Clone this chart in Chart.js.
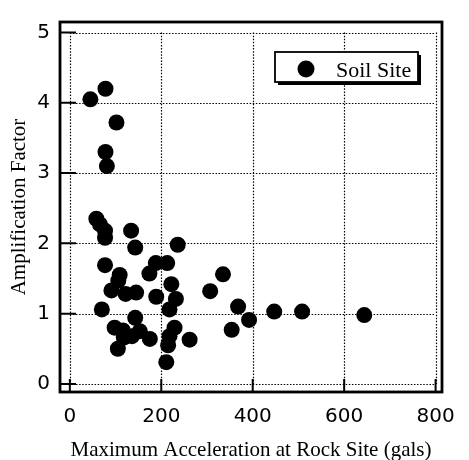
<html>

<head>
  <script src="https://cdn.jsdelivr.net/npm/chart.js"></script>
</head>

<body style="margin: 0; background: #fff;">
  <canvas id="myChart" width="469" height="460"></canvas>
  <script>
    // values
    const seriesLabel = 'Soil Site';
    const rockAccel = [45, 78, 102, 78, 81, 58, 66, 77, 77, 134, 143, 236, 77, 109, 106, 91, 122, 145,
      174, 188, 213, 222, 189, 232, 218, 70, 143, 307, 335, 368, 354, 392, 447, 508, 644,
      98, 116, 153, 175, 105, 118, 136, 229, 218, 262, 215, 211];
    const ampFactor = [4.05, 4.20, 3.72, 3.30, 3.10, 2.35, 2.27, 2.18, 2.08, 2.18, 1.94, 1.98, 1.69, 1.55, 1.47, 1.33, 1.28, 1.30,
      1.57, 1.72, 1.72, 1.42, 1.24, 1.21, 1.06, 1.06, 0.94, 1.32, 1.56, 1.10, 0.77, 0.91, 1.03, 1.03, 0.98,
      0.80, 0.76, 0.75, 0.64, 0.50, 0.66, 0.68, 0.80, 0.68, 0.63, 0.55, 0.31];
    const xTicks = [0, 200, 400, 600, 800];
    const yTicks = [0, 1, 2, 3, 4, 5];
    const xTitle = 'Maximum Acceleration at Rock Site (gals)';
    const yTitle = 'Amplification Factor';

    var points = [];
    rockAccel.forEach((v, i) => {
      points.push({ 'x': v, 'y': ampFactor[i] });
    });

    const serif = 'Liberation Serif';
    const sans = 'DejaVu Sans';

    // dotted grid limited to the 0..800 / 0..5 box
    const dotGrid = {
      id: 'dotGrid',
      beforeDatasetsDraw(chart) {
        const { ctx, scales: { x, y } } = chart;
        const x0 = x.getPixelForValue(xTicks[0]), x1 = x.getPixelForValue(xTicks[xTicks.length - 1]);
        const y0 = y.getPixelForValue(yTicks[0]), y1 = y.getPixelForValue(yTicks[yTicks.length - 1]);
        ctx.save();
        ctx.strokeStyle = '#000';
        ctx.lineWidth = 1.2;
        ctx.setLineDash([1.5, 1.6]);
        ctx.beginPath();
        xTicks.forEach(v => {
          const px = Math.round(x.getPixelForValue(v)) + 0.5;
          ctx.moveTo(px, y1); ctx.lineTo(px, y0);
        });
        yTicks.forEach(v => {
          const py = Math.round(y.getPixelForValue(v)) + 0.5;
          ctx.moveTo(x0, py); ctx.lineTo(x1, py);
        });
        ctx.stroke();
        ctx.restore();
      }
    };

    // heavy frame, inward tick marks and the boxed legend
    const frame = {
      id: 'frame',
      afterDraw(chart) {
        const { ctx, chartArea: a, scales: { x, y } } = chart;
        ctx.save();
        ctx.strokeStyle = '#000';
        ctx.lineWidth = 2;
        ctx.beginPath();
        yTicks.forEach(v => {
          const py = y.getPixelForValue(v);
          ctx.moveTo(a.left, py); ctx.lineTo(a.left + 16, py);
        });
        xTicks.forEach(v => {
          const px = x.getPixelForValue(v);
          ctx.moveTo(px, a.bottom); ctx.lineTo(px, a.bottom - 13);
        });
        ctx.stroke();
        ctx.lineWidth = 2.8;
        ctx.strokeRect(a.left, a.top, a.right - a.left, a.bottom - a.top);

        // legend box
        const bx = a.right - 167, by = a.top + 30, bw = 143, bh = 30;
        ctx.fillStyle = '#000';
        ctx.fillRect(bx + 3, by + 3, bw, bh);
        ctx.fillStyle = '#fff';
        ctx.fillRect(bx, by, bw, bh);
        ctx.lineWidth = 1.8;
        ctx.strokeRect(bx, by, bw, bh);
        ctx.fillStyle = '#000';
        ctx.beginPath();
        ctx.arc(bx + 31, by + 17, 8.5, 0, Math.PI * 2);
        ctx.fill();
        ctx.font = '22px "' + serif + '"';
        ctx.textBaseline = 'alphabetic';
        ctx.fillText(chart.data.datasets[0].label, bx + 61, by + 25);
        ctx.restore();
      }
    };

    var ctx = document.getElementById('myChart').getContext('2d');
    var grafica = new Chart(ctx, {
      type: 'scatter',
      data: {
        datasets: [{
          label: seriesLabel,
          data: points,
          backgroundColor: '#000',
          borderColor: '#000',
          borderWidth: 0,
          pointRadius: 8,
          pointHoverRadius: 8
        }]
      },
      options: {
        responsive: false,
        animation: false,
        devicePixelRatio: 1,
        layout: { padding: { top: 7, right: 27, left: 0, bottom: 0 } },
        plugins: {
          legend: { display: false },
          tooltip: { enabled: false }
        },
        scales: {
          x: {
            type: 'linear',
            min: -21.5,
            max: 814,
            afterBuildTicks: s => { s.ticks = xTicks.map(v => ({ value: v })); },
            afterFit: s => { s.height = 68; },
            grid: { display: false, drawTicks: false },
            border: { display: false },
            ticks: {
              color: '#000',
              font: { family: sans, size: 20 },
              padding: 13,
              maxRotation: 0,
              autoSkip: false
            },
            title: {
              display: true,
              text: xTitle,
              color: '#000',
              font: { family: serif, size: 21 },
              padding: { top: 0, bottom: -3 }
            }
          },
          y: {
            min: -0.115,
            max: 5.15,
            afterBuildTicks: s => { s.ticks = yTicks.map(v => ({ value: v })); },
            afterFit: s => { s.width = 60; },
            grid: { display: false, drawTicks: false },
            border: { display: false },
            ticks: {
              color: '#000',
              font: { family: sans, size: 20 },
              padding: 10,
              autoSkip: false
            },
            title: {
              display: true,
              text: yTitle,
              color: '#000',
              font: { family: serif, size: 21 },
              padding: { top: 7, bottom: 0 }
            }
          }
        }
      },
      plugins: [dotGrid, frame]
    });
  </script>
</body>

</html>
